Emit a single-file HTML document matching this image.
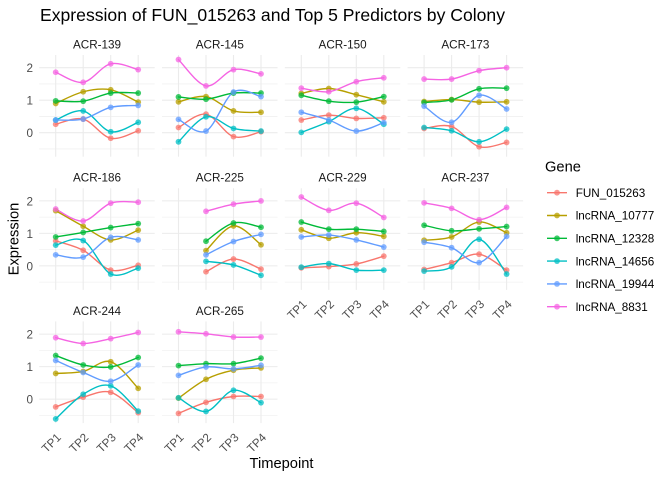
<!DOCTYPE html>
<html>
<head>
<meta charset="utf-8">
<style>
  html,body{margin:0;padding:0;background:#fff;}
  svg{display:block;}
  text{font-family:"Liberation Sans", Arial, sans-serif;}
</style>
</head>
<body>
<svg id="chart" width="672" height="480" viewBox="0 0 672 480" xmlns="http://www.w3.org/2000/svg">
  <rect x="0" y="0" width="672" height="480" fill="#ffffff"/>
  <g id="grid"></g>
  <g id="lines"></g>
  <g id="points"></g>

  <!-- Title -->
  <text x="40" y="21" font-size="17.6" fill="#000" textLength="465" lengthAdjust="spacingAndGlyphs">Expression of FUN_015263 and Top 5 Predictors by Colony</text>

  <!-- Strip labels -->
  <g font-size="11.7" fill="#1A1A1A" text-anchor="middle">
    <text x="97" y="48.5">ACR-139</text>
    <text x="219.8" y="48.5">ACR-145</text>
    <text x="342.6" y="48.5">ACR-150</text>
    <text x="465.4" y="48.5">ACR-173</text>
    <text x="97" y="181.7">ACR-186</text>
    <text x="219.8" y="181.7">ACR-225</text>
    <text x="342.6" y="181.7">ACR-229</text>
    <text x="465.4" y="181.7">ACR-237</text>
    <text x="97" y="314.9">ACR-244</text>
    <text x="219.8" y="314.9">ACR-265</text>
  </g>

  <!-- Y axis labels -->
  <g font-size="11.7" fill="#4D4D4D" text-anchor="end">
    <text x="33" y="72.2">2</text>
    <text x="33" y="104.7">1</text>
    <text x="33" y="137.2">0</text>
    <text x="33" y="205.4">2</text>
    <text x="33" y="237.9">1</text>
    <text x="33" y="270.4">0</text>
    <text x="33" y="338.6">2</text>
    <text x="33" y="371.1">1</text>
    <text x="33" y="403.6">0</text>
  </g>

  <!-- X axis labels (rotated) -->
  <g font-size="11.7" fill="#4D4D4D" text-anchor="end">
    <text transform="translate(307.3,304.9) rotate(-45)">TP1</text>
    <text transform="translate(334.8,304.9) rotate(-45)">TP2</text>
    <text transform="translate(362.3,304.9) rotate(-45)">TP3</text>
    <text transform="translate(389.8,304.9) rotate(-45)">TP4</text>
    <text transform="translate(430.1,304.9) rotate(-45)">TP1</text>
    <text transform="translate(457.6,304.9) rotate(-45)">TP2</text>
    <text transform="translate(485.1,304.9) rotate(-45)">TP3</text>
    <text transform="translate(512.6,304.9) rotate(-45)">TP4</text>
    <text transform="translate(61.7,438.1) rotate(-45)">TP1</text>
    <text transform="translate(89.2,438.1) rotate(-45)">TP2</text>
    <text transform="translate(116.7,438.1) rotate(-45)">TP3</text>
    <text transform="translate(144.2,438.1) rotate(-45)">TP4</text>
    <text transform="translate(184.5,438.1) rotate(-45)">TP1</text>
    <text transform="translate(212,438.1) rotate(-45)">TP2</text>
    <text transform="translate(239.5,438.1) rotate(-45)">TP3</text>
    <text transform="translate(267,438.1) rotate(-45)">TP4</text>
  </g>

  <!-- Axis titles -->
  <text x="281.5" y="468" font-size="14.7" fill="#000" text-anchor="middle">Timepoint</text>
  <text transform="translate(18.3,239) rotate(-90)" font-size="14.7" fill="#000" text-anchor="middle">Expression</text>

  <!-- Legend -->
  <text x="545" y="171.7" font-size="14.7" fill="#000">Gene</text>
  <g id="legendkeys"></g>
  <g font-size="11.7" fill="#000">
    <text x="575.7" y="196.9">FUN_015263</text>
    <text x="575.7" y="219.7">lncRNA_10777</text>
    <text x="575.7" y="242.5">lncRNA_12328</text>
    <text x="575.7" y="265.3">lncRNA_14656</text>
    <text x="575.7" y="288.1">lncRNA_19944</text>
    <text x="575.7" y="310.9">lncRNA_8831</text>
  </g>
</svg>

<script>
(function(){
  var NS = "http://www.w3.org/2000/svg";
  var cols = ['#F8766D','#B79F00','#00BA38','#00BFC4','#619CFF','#F564E3'];
  var panels = [
    [[0.26,0.42,-0.17,0.06],[0.90,1.26,1.32,0.94],[0.98,0.97,1.22,1.22],[0.39,0.67,0.03,0.32],[0.39,0.42,0.78,0.84],[1.86,1.55,2.12,1.94]],
    [[0.16,0.57,-0.12,0.03],[0.95,1.11,0.67,0.63],[1.10,1.03,1.22,1.22],[-0.28,0.49,0.13,0.05],[0.41,0.05,1.25,1.11],[2.25,1.44,1.94,1.81]],
    [[0.39,0.54,0.44,0.46],[1.21,1.36,1.17,0.95],[1.15,0.97,0.94,1.11],[0.01,0.34,0.75,0.26],[0.63,0.39,0.05,0.31],[1.37,1.26,1.57,1.69]],
    [[0.13,0.19,-0.43,-0.30],[0.96,1.02,0.94,0.95],[0.93,1.01,1.35,1.37],[0.16,0.06,-0.28,0.11],[0.82,0.32,1.15,0.73],[1.65,1.65,1.91,2.0]],
    [[0.77,0.48,-0.13,0.02],[1.70,1.22,0.80,1.10],[0.89,1.03,1.18,1.30],[0.64,0.78,-0.25,-0.07],[0.34,0.27,0.88,0.80],[1.75,1.38,1.93,1.96]],
    [[null,-0.18,0.21,-0.10],[null,0.47,1.23,0.65],[null,0.76,1.32,1.19],[null,0.14,0.03,-0.29],[null,0.34,0.75,0.97],[null,1.68,1.90,2.0]],
    [[-0.06,-0.02,0.06,0.30],[1.11,0.85,1.02,0.91],[1.35,1.13,1.13,1.06],[-0.04,0.07,-0.13,-0.13],[0.89,0.95,0.80,0.58],[2.12,1.71,1.93,1.49]],
    [[-0.11,0.10,0.36,-0.13],[0.79,0.89,1.35,1.02],[1.25,1.08,1.14,1.21],[-0.16,-0.03,0.82,-0.25],[0.73,0.56,0.10,0.91],[1.94,1.77,1.42,1.80]],
    [[-0.24,0.06,0.21,-0.42],[0.79,0.85,1.15,0.33],[1.34,1.05,0.99,1.28],[-0.61,0.15,0.41,-0.37],[1.19,0.82,0.55,1.05],[1.89,1.71,1.86,2.05]],
    [[-0.44,-0.10,0.08,0.08],[0.03,0.61,0.89,0.96],[1.03,1.09,1.09,1.26],[0.04,-0.38,0.27,-0.11],[0.73,0.99,0.93,1.04],[2.07,2.01,1.91,1.91]]
  ];
  var grid = document.getElementById('grid');
  var lines = document.getElementById('lines');
  var pts = document.getElementById('points');
  var lk = document.getElementById('legendkeys');

  function el(tag, attrs, parent){
    var e = document.createElementNS(NS, tag);
    for (var k in attrs) e.setAttribute(k, attrs[k]);
    parent.appendChild(e);
    return e;
  }

  var LEFT0 = 39.2, PW = 115.5, CSTEP = 122.8;
  var TOP0 = 55, PH = 101.7, RSTEP = 133.2;
  var Y0 = 132.7, UNIT = 32.5;

  function crPath(xs, ys){
    var n = xs.length;
    var d = 'M' + xs[0].toFixed(2) + ',' + ys[0].toFixed(2);
    var s = 1/6;
    for (var i=0;i<n-1;i++){
      var x0 = xs[Math.max(i-1,0)], y0 = ys[Math.max(i-1,0)];
      var x1 = xs[i], y1 = ys[i];
      var x2 = xs[i+1], y2 = ys[i+1];
      var x3 = xs[Math.min(i+2,n-1)], y3 = ys[Math.min(i+2,n-1)];
      var c1x = x1 + (x2-x0)*s, c1y = y1 + (y2-y0)*s;
      var c2x = x2 - (x3-x1)*s, c2y = y2 - (y3-y1)*s;
      d += 'C' + c1x.toFixed(2)+','+c1y.toFixed(2)+' '+c2x.toFixed(2)+','+c2y.toFixed(2)+' '+x2.toFixed(2)+','+y2.toFixed(2);
    }
    return d;
  }

  for (var k=0;k<panels.length;k++){
    var c = k%4, r = Math.floor(k/4);
    var left = LEFT0 + c*CSTEP, top = TOP0 + r*RSTEP;
    var y0 = Y0 + r*RSTEP;
    [-0.5,0.5,1.5].forEach(function(v){
      var y = y0 - v*UNIT;
      el('line',{x1:left,x2:left+PW,y1:y,y2:y,stroke:'#EBEBEB','stroke-width':0.55},grid);
    });
    [0,1,2].forEach(function(v){
      var y = y0 - v*UNIT;
      el('line',{x1:left,x2:left+PW,y1:y,y2:y,stroke:'#EBEBEB','stroke-width':1.07},grid);
    });
    var txs = [];
    for (var i=0;i<4;i++){
      var x = left + 16.5 + i*27.5;
      txs.push(x);
      el('line',{x1:x,x2:x,y1:top,y2:top+PH,stroke:'#EBEBEB','stroke-width':1.07},grid);
    }
    var series = panels[k];
    for (var g=0; g<series.length; g++){
      var xs=[], ys=[];
      for (var i=0;i<4;i++){
        if (series[g][i]===null) continue;
        xs.push(txs[i]); ys.push(y0 - series[g][i]*UNIT);
      }
      el('path',{d:crPath(xs,ys),fill:'none',stroke:cols[g],'stroke-width':1.4,'stroke-linejoin':'round','stroke-linecap':'round'},lines);
      for (var j=0;j<xs.length;j++){
        el('circle',{cx:xs[j],cy:ys[j],r:2.9,fill:cols[g],'fill-opacity':0.75},pts);
      }
    }
  }
  for (var g=0; g<6; g++){
    var y = 192.7 + g*22.8;
    el('line',{x1:547,x2:567,y1:y,y2:y,stroke:cols[g],'stroke-width':1.4},lk);
    el('circle',{cx:557,cy:y,r:2.9,fill:cols[g],'fill-opacity':0.75},lk);
  }
})();
</script>
</body>
</html>
